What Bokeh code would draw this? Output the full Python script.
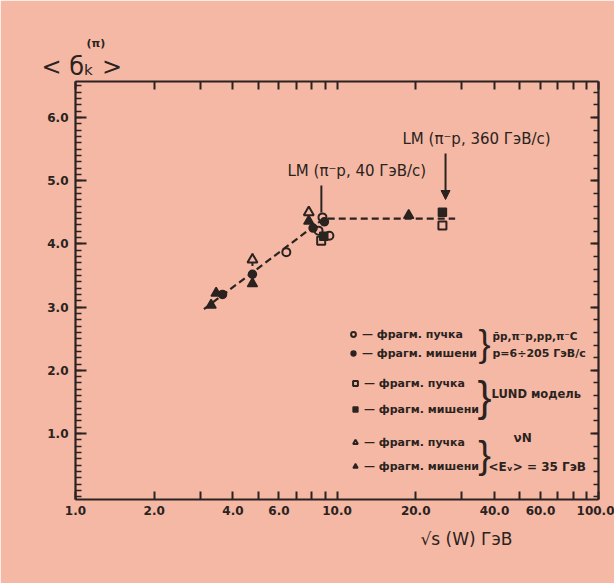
import numpy as np
from bokeh.plotting import figure
from bokeh.models import (Range1d, FixedTicker, LinearAxis, LogAxis, Label, Arrow,
                          NormalHead, Legend, LegendItem, CustomJSTickFormatter,
                          PrintfTickFormatter, Whisker, ColumnDataSource, Title)
from bokeh.embed import file_html
from bokeh.resources import INLINE

# ---------------- data ----------------
# experiment pp-bar, pi-p, pp, pi-C : beam fragmentation (open circles)
exp_beam_x = [6.4, 8.5, 8.8, 9.35]
exp_beam_y = [3.87, 4.21, 4.42, 4.13]
# experiment : target fragmentation (filled circles)
exp_target_x = [3.65, 4.75, 8.1, 8.95]
exp_target_y = [3.20, 3.52, 4.25, 4.35]
# LUND model : beam (open squares) / target (filled squares)
lund_beam_x = [8.7, 25.3]
lund_beam_y = [4.05, 4.29]
lund_target_x = [8.9, 25.3]
lund_target_y = [4.12, 4.50]
# nu N : beam (open triangles) / target (filled triangles)
nu_beam_x = [4.75, 7.8]
nu_beam_y = [3.75, 4.50]
nu_beam_err = [0.10, 0.08]
nu_target_x = [3.3, 3.45, 4.75, 7.8, 18.8]
nu_target_y = [3.03, 3.22, 3.37, 4.36, 4.45]
# dashed guide line
fit_x = [3.1, 8.9, 28.3]
fit_y = [2.97, 4.40, 4.40]
# beam momenta of the LM arrows (GeV/c)
lm_momenta = [40, 360]
m_p, m_pi = 0.938, 0.140

x_tick_values = [1, 2, 4, 6, 10, 20, 40, 60, 100]
x_tick_labels = ["1.0", "2.0", "4.0", "6.0", "10.0", "20.0", "40.0", "60.0", "100.0"]
x_all_ticks = [1, 2, 3, 4, 5, 6, 7, 8, 9, 10, 20, 30, 40, 50, 60, 70, 80, 90, 100]
y_tick_values = [1, 2, 3, 4, 5, 6]

# ---------------- style ----------------
ink = "#2a2320"
bg = "#F5B8A5"
FONT = "DejaVu Sans"

p = figure(width=614, height=583, x_axis_type="log",
           x_range=Range1d(1, 100), y_range=Range1d(-0.044, 6.57),
           output_backend="svg", toolbar_location=None,
           min_border_left=75, min_border_right=16, min_border_top=81, min_border_bottom=84,
           background_fill_color=bg, border_fill_color=bg, outline_line_color=None)
p.grid.visible = False
p.title.visible = False


def px2x(px):
    return 10 ** ((px - 75) / 261.5)


def py2y(py):
    return (496.2 - py) / 63.2


def style_axis(ax):
    ax.axis_line_width = 2.2
    ax.axis_line_color = ink
    ax.major_tick_line_color = ink
    ax.minor_tick_line_color = ink
    ax.major_tick_line_width = 2
    ax.minor_tick_line_width = 1.5
    ax.major_tick_out = 0
    ax.minor_tick_out = 0
    ax.major_label_text_color = ink
    ax.major_label_text_font = FONT
    ax.major_label_text_font_style = "bold"


xfmt = CustomJSTickFormatter(args=dict(vals=x_tick_values, labs=x_tick_labels), code="""
const i = vals.findIndex(v => Math.abs(v - tick) < 1e-6);
return i >= 0 ? labs[i] : '';
""")
blank = CustomJSTickFormatter(code="return '';")

xb = p.xaxis[0]
xb.ticker = FixedTicker(ticks=x_all_ticks, minor_ticks=[])
xb.formatter = xfmt
style_axis(xb)
xb.major_tick_in = 8
xb.major_label_text_font_size = "12px"
xb.major_label_standoff = 6

xt = LogAxis(ticker=FixedTicker(ticks=x_all_ticks, minor_ticks=[]), formatter=blank)
style_axis(xt)
xt.major_tick_in = 8
xt.major_label_text_font_size = "1px"
xt.major_label_standoff = 0
p.add_layout(xt, "above")

minor_y = [round(v, 2) for v in np.arange(0, 6.6, 0.1)]
minor_y5 = [round(v, 2) for v in np.arange(0, 6.6, 0.2)]
yl = p.yaxis[0]
yl.ticker = FixedTicker(ticks=y_tick_values, minor_ticks=minor_y)
yl.formatter = PrintfTickFormatter(format="%.1f")
style_axis(yl)
yl.major_tick_in = 11
yl.minor_tick_in = 6
yl.major_label_text_font_size = "12px"
yl.major_label_standoff = 7

yr = LinearAxis(ticker=FixedTicker(ticks=y_tick_values, minor_ticks=minor_y5), formatter=blank)
style_axis(yr)
yr.major_tick_in = 8
yr.minor_tick_in = 5
yr.major_label_text_font_size = "1px"
yr.major_label_standoff = 0
p.add_layout(yr, "right")

# ---------------- data marks ----------------
p.line(fit_x, fit_y, line_color=ink, line_width=2.2, line_dash="7 4")

src_nb = ColumnDataSource(dict(x=nu_beam_x, y=nu_beam_y,
                               lo=[a - b for a, b in zip(nu_beam_y, nu_beam_err)],
                               hi=[a + b for a, b in zip(nu_beam_y, nu_beam_err)]))
p.add_layout(Whisker(source=src_nb, base="x", lower="lo", upper="hi", line_color=ink,
                     line_width=2, upper_head=None, lower_head=None))

r_eb = p.scatter(exp_beam_x, exp_beam_y, marker="circle", size=8, fill_color=bg,
                 line_color=ink, line_width=2)
r_et = p.scatter(exp_target_x, exp_target_y, marker="circle", size=8, fill_color=ink,
                 line_color=ink, line_width=1.5)
r_lb = p.scatter(lund_beam_x, lund_beam_y, marker="square", size=8, fill_color=bg,
                 line_color=ink, line_width=2)
r_lt = p.scatter(lund_target_x, lund_target_y, marker="square", size=8, fill_color=ink,
                 line_color=ink, line_width=1.5)
r_nb = p.scatter(source=src_nb, x="x", y="y", marker="triangle", size=10, fill_color=bg,
                 line_color=ink, line_width=2)
r_nt = p.scatter(nu_target_x, nu_target_y, marker="triangle", size=10, fill_color=ink,
                 line_color=ink, line_width=1.5)

# ---------------- LM arrows ----------------
lm_x = [np.sqrt(m_p ** 2 + m_pi ** 2 + 2 * m_p * pb) for pb in lm_momenta]
p.add_layout(Arrow(end=None, x_start=lm_x[0], x_end=lm_x[0], y_start=py2y(185), y_end=py2y(212),
                   line_color=ink, line_width=2))
p.add_layout(Arrow(end=NormalHead(size=9, fill_color=ink, line_color=ink),
                   x_start=lm_x[1], x_end=lm_x[1], y_start=py2y(153), y_end=py2y(199),
                   line_color=ink, line_width=2))


def lab(px, py, text, size, style="normal", align="left", font=FONT):
    p.add_layout(Label(x=px2x(px), y=py2y(py), text=text, text_font=font,
                       text_font_size=f"{size}px", text_font_style=style,
                       text_color=ink, text_align=align, text_baseline="middle"))


lab(287, 170, "LM (π\u207bp, 40 ГэВ/с)", 15)
lab(402, 138, "LM (π\u207bp, 360 ГэВ/с)", 15)

# ---------------- axis titles (outside the frame) ----------------
p.add_layout(Title(text="<  б\u2096  >", align="left", offset=-34, standoff=2,
                   text_font=FONT, text_font_size="24px", text_font_style="normal",
                   text_color=ink), "above")
p.add_layout(Title(text="(π)", align="left", offset=11, standoff=0,
                   text_font=FONT, text_font_size="11px", text_font_style="bold",
                   text_color=ink), "above")
p.add_layout(Title(text="\u221As (W) ГэВ", align="left", offset=345, standoff=18,
                   text_font=FONT, text_font_size="17px", text_font_style="normal",
                   text_color=ink), "below")

# ---------------- legend ----------------
def mk_legend(items, loc, spacing):
    lg = Legend(items=items, location=loc, orientation="vertical", spacing=spacing,
                padding=0, margin=0, glyph_width=12, glyph_height=14, label_height=14,
                label_standoff=3, label_text_font=FONT, label_text_font_size="11px",
                label_text_font_style="bold", label_text_color=ink,
                background_fill_alpha=0, border_line_alpha=0)
    p.add_layout(lg)


mk_legend([LegendItem(label="— фрагм. пучка", renderers=[r_eb]),
           LegendItem(label="— фрагм. мишени", renderers=[r_et])], (272, 139), 5)
mk_legend([LegendItem(label="— фрагм. пучка", renderers=[r_lb]),
           LegendItem(label="— фрагм. мишени", renderers=[r_lt])], (274, 83), 12)
mk_legend([LegendItem(label="— фрагм. пучка", renderers=[r_nb]),
           LegendItem(label="— фрагм. мишени", renderers=[r_nt])], (274, 26), 10)

lab(484, 343, "}", 36, align="center", font="Liberation Sans")
lab(484, 396, "}", 42, align="center", font="Liberation Sans")
lab(484, 454, "}", 38, align="center", font="Liberation Sans")
lab(492, 335, "p\u0304p,π\u207bp,pp,π\u207bC", 10.5, style="bold")
lab(492, 353, "p=6÷205 ГэВ/с", 11, style="bold")
lab(491, 393, "LUND модель", 11.5, style="bold")
lab(513, 437, "νN", 12, style="bold")
lab(488, 466, "<E\u1d65> = 35 ГэВ", 12, style="bold")

open("out.html", "w").write(file_html(p, INLINE))
